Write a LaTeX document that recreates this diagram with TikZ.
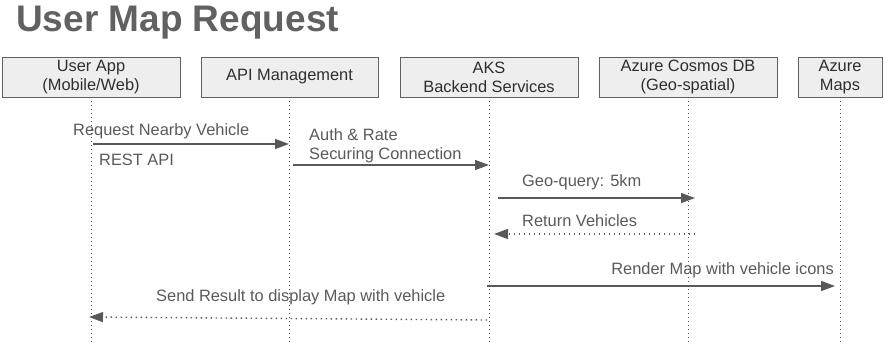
\documentclass[tikz,border=0pt]{standalone}
\usepackage{fontspec}
\setmainfont{Liberation Sans}
\usetikzlibrary{arrows.meta}
\definecolor{inkgray}{HTML}{595959}
\definecolor{boxgray}{HTML}{EEEEEE}
\tikzset{
	actor/.style={draw=black!62,fill=boxgray,line width=0.9pt,minimum height=40pt,
		inner sep=0pt,align=center,text=black!82,font=\fontsize{16.4}{19}\selectfont},
	lifeline/.style={draw=black!70,line width=0.8pt,dash pattern=on 0.9pt off 3.1pt},
	msg/.style={-{Triangle[length=14pt,width=10pt]},draw=inkgray,line width=1.4pt},
	reply/.style={msg,dash pattern=on 1.3pt off 3.7pt}
}

\begin{document}
\begin{tikzpicture}[x=1pt,y=-1pt,
			mlabel/.style={inner sep=0pt,text=inkgray,font=\fontsize{16.4}{19}\selectfont}]
			\useasboundingbox (0,0) rectangle (890,344);
			\node[anchor=base west,inner sep=0pt,text=black!62,
				font=\bfseries\fontsize{37}{40}\selectfont] (title) at (16,32) {User Map Request};
			% participants and their lifelines
			\foreach \n/\x/\w/\t in {app/91/178/{User App\\(Mobile/Web)},
				api/289.5/177/{API Management},aks/489/178/{AKS\\Backend Services},
				cosmos/688/178/{Azure Cosmos DB\\(Geo-spatial)},maps/840/84/{Azure\\Maps}}{
				\node[actor,minimum width=\w pt] (\n) at (\x,77) {\t};
				\coordinate (\n-end) at (\x,344);
				\draw[lifeline] (\n.south) -- (\n-end);
			}
			% message end points
			\coordinate (r1a) at (93,144);   \coordinate (r1b) at (289,144);
			\coordinate (r2a) at (293,165);  \coordinate (r2b) at (489,165);
			\coordinate (r3a) at (498,198);  \coordinate (r3b) at (695,198);
			\coordinate (r4a) at (695,234);  \coordinate (r4b) at (494,234);
			\coordinate (r5a) at (487,286);  \coordinate (r5b) at (835,286);
			\coordinate (r6a) at (487,320);  \coordinate (r6b) at (89,317);
			\draw[msg] (r1a) -- (r1b);
			\draw[msg] (r2a) -- (r2b);
			\draw[msg] (r3a) -- (r3b);
			\draw[reply] (r4a) -- (r4b);
			\draw[msg] (r5a) -- (r5b);
			\draw[reply] (r6a) -- (r6b);
			% message labels
			\node[mlabel,anchor=base west] (l1) at (73,135.5) {Request Nearby Vehicle};
			\node[mlabel,anchor=base west] (l1b) at (99,166) {REST API};
			\node[mlabel,anchor=base west] (l2) at (309,141) {Auth \& Rate};
			\node[mlabel,anchor=base west] (l2b) at (309,159.5) {Securing Connection};
			\node[mlabel,anchor=base west] (l3) at (522,187) {Geo-query: 5km};
			\node[mlabel,anchor=base west] (l4) at (522,227) {Return Vehicles};
			\node[mlabel,anchor=base east] (l5) at (834,274) {Render Map with vehicle icons};
			\node[mlabel,anchor=base west] (l6) at (156,301) {Send Result to display Map with vehicle};
		\end{tikzpicture}
\end{document}
